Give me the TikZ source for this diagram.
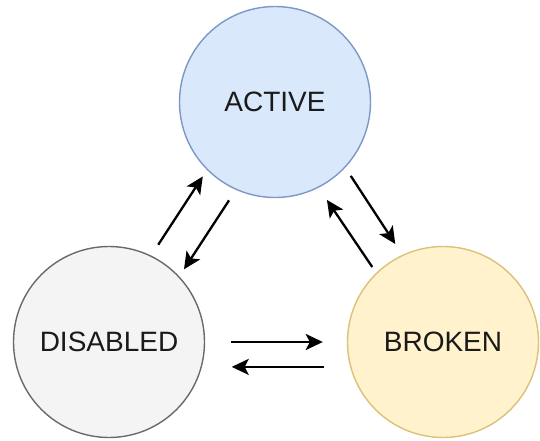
\documentclass[tikz,border=0pt]{standalone}
\usepackage{fontspec}
\setmainfont{Liberation Sans}
\usetikzlibrary{arrows.meta}

\definecolor{activefill}{HTML}{DAE8FC}
\definecolor{activeline}{HTML}{7C98C4}
\definecolor{disabledfill}{HTML}{F4F4F4}
\definecolor{disabledline}{HTML}{6A6A6A}
\definecolor{brokenfill}{HTML}{FFF2CC}
\definecolor{brokenline}{HTML}{D9C27A}
\definecolor{labeltext}{HTML}{1A1A1A}

\begin{document}
\begin{tikzpicture}[x=1pt, y=1pt,
  state/.style={circle, minimum size=191pt, inner sep=0pt, line width=1.4pt,
    font=\fontsize{28}{32}\selectfont, text=labeltext},
  arr/.style={line width=2.3pt, -{Stealth[length=17pt, width=16pt, inset=4pt]}}]
\useasboundingbox (0,0) rectangle (540,-441);

% the three states
\node[state, draw=activeline, fill=activefill]     (act) at (275,-102) {ACTIVE};
\node[state, draw=disabledline, fill=disabledfill] (dis) at (109,-342) {DISABLED};
\node[state, draw=brokenline, fill=brokenfill]     (bro) at (443,-342) {BROKEN};

% DISABLED <-> ACTIVE
\draw[arr, shorten <=12.9pt, shorten >=7.7pt]  (dis.64)  -- (act.225);
\draw[arr, shorten <=12.5pt, shorten >=8.5pt]  (act.246) -- (dis.43);

% ACTIVE <-> BROKEN
\draw[arr, shorten <=9.9pt,  shorten >=12.9pt] (act.317) -- (bro.115);
\draw[arr, shorten <=7pt,    shorten >=14.7pt] (bro.134) -- (act.297);

% DISABLED <-> BROKEN
\draw[arr, shorten <=25.5pt, shorten >=24pt]   (dis.0)   -- (bro.180);
\draw[arr, shorten <=25.8pt, shorten >=29.8pt] (bro.195) -- (dis.345);
\end{tikzpicture}
\end{document}
